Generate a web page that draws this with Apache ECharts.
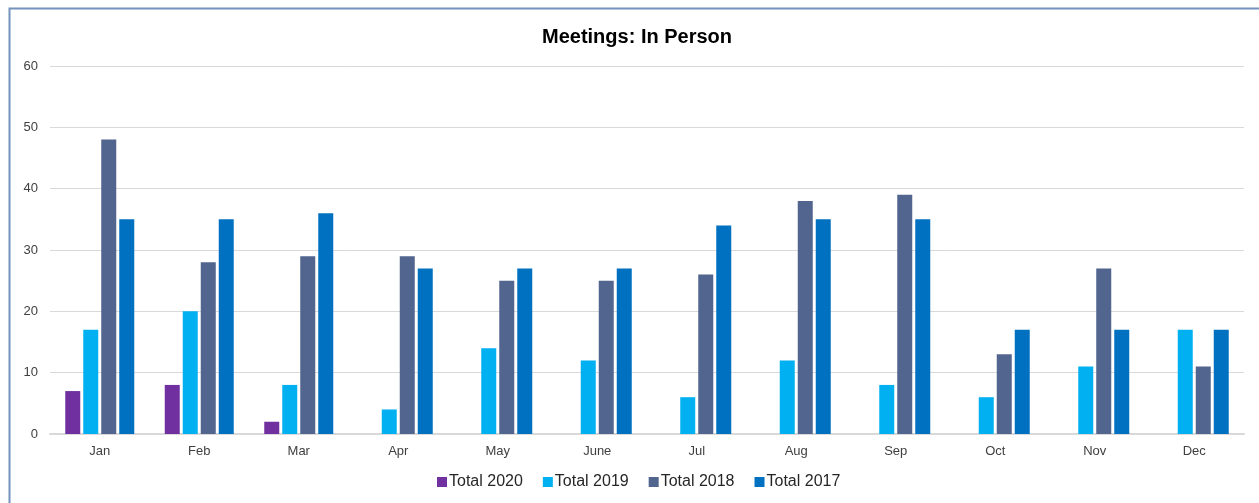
<!DOCTYPE html>
<html>
<head>
<meta charset="utf-8">
<script src="https://cdn.jsdelivr.net/npm/echarts@6/dist/echarts.min.js"></script>
<style>
html,body{margin:0;padding:0;background:#fff;}
#c{width:1259px;height:503px;}
</style>
</head>
<body>
<div id="c"></div>
<script>
const categories = ['Jan','Feb','Mar','Apr','May','June','Jul','Aug','Sep','Oct','Nov','Dec'];
const total2020 = [7, 8, 2, null, null, null, null, null, null, null, null, null];
const total2019 = [17, 20, 8, 4, 14, 12, 6, 12, 8, 6, 11, 17];
const total2018 = [48, 28, 29, 29, 25, 25, 26, 38, 39, 13, 27, 11];
const total2017 = [35, 35, 36, 27, 27, 27, 34, 35, 35, 17, 17, 17];
const seriesNames = ['Total 2020','Total 2019','Total 2018','Total 2017'];
const colors = ['#7030a0','#00b0f0','#51658e','#0070c0'];

const chart = echarts.init(document.getElementById('c'), null, {renderer:'canvas'});
const font = '"Liberation Sans", Arial, sans-serif';
const data = [total2020, total2019, total2018, total2017];
chart.setOption({
  animation:false,
  backgroundColor:'#fff',
  title:{
    text:'Meetings: In Person', left:537, top:22,
    textStyle:{fontFamily:font, fontSize:20, fontWeight:'bold', color:'#000'}
  },
  graphic:[{
    type:'rect', silent:true, z:-1,
    shape:{x:9.5, y:8.5, width:1300, height:600},
    style:{fill:null, stroke:'#7393bd', lineWidth:2}
  }],
  legend:{
    bottom:8, left:432, itemWidth:10, itemHeight:10, itemGap:20,
    icon:'rect',
    textStyle:{fontFamily:font, fontSize:16, color:'#262626', padding:[0,0,0,-3]},
    data:seriesNames
  },
  grid:{left:50, right:15, top:66, bottom:69, containLabel:false},
  xAxis:{
    type:'category', data:categories,
    axisLine:{lineStyle:{color:'#d9d9d9', width:2}},
    axisTick:{show:false},
    axisLabel:{fontFamily:font, fontSize:13, color:'#404040', margin:11}
  },
  yAxis:{
    type:'value', min:0, max:60, interval:10,
    axisLine:{show:false}, axisTick:{show:false},
    splitLine:{lineStyle:{color:'#d9d9d9', width:1}},
    axisLabel:{fontFamily:font, fontSize:13, color:'#404040', margin:12}
  },
  series: seriesNames.map((n,i)=>({
    name:n, type:'bar', data:data[i], barWidth:15, barGap:'20%',
    itemStyle:{color:colors[i]}
  }))
});
</script>
</body>
</html>
